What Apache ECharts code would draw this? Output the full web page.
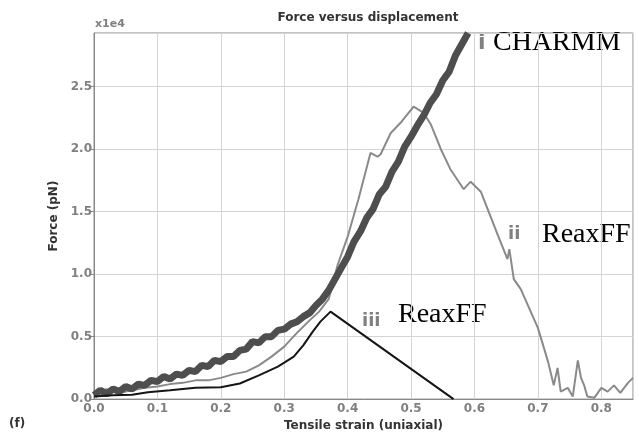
<!DOCTYPE html>
<html>
<head>
<meta charset="utf-8">
<script src="https://cdn.jsdelivr.net/npm/echarts@6/dist/echarts.min.js"></script>
<style>
  html, body { margin: 0; padding: 0; background: #fff; }
  #chart { width: 639px; height: 437px; }
</style>
</head>
<body>
<div id="chart"></div>
<script>
// strain values (x) and force in pN (y)
var charmm = [
  [0.0, 300], [0.01, 700], [0.02, 400], [0.03, 800], [0.04, 600], [0.05, 1000],
  [0.06, 800], [0.07, 1200], [0.08, 1100], [0.09, 1500], [0.10, 1400], [0.11, 1800],
  [0.12, 1600], [0.13, 2000], [0.14, 1900], [0.15, 2300], [0.16, 2200], [0.17, 2700],
  [0.18, 2600], [0.19, 3100], [0.20, 3000], [0.21, 3400], [0.22, 3400], [0.23, 3900],
  [0.24, 4000], [0.25, 4600], [0.26, 4500], [0.27, 5000], [0.28, 5000], [0.29, 5500],
  [0.30, 5600], [0.31, 6000], [0.32, 6200], [0.33, 6600], [0.34, 6900], [0.35, 7500],
  [0.36, 8000], [0.37, 8700], [0.38, 9600], [0.39, 10500], [0.40, 11400], [0.41, 12600],
  [0.42, 13400], [0.43, 14500], [0.44, 15200], [0.45, 16400], [0.46, 17000], [0.47, 18200],
  [0.48, 19000], [0.49, 20200], [0.50, 21000], [0.51, 21900], [0.52, 22700], [0.53, 23700],
  [0.54, 24400], [0.55, 25500], [0.56, 26200], [0.57, 27500], [0.58, 28400], [0.59, 29300]
]
var reaxA = [
  [0.0, 500], [0.02, 800], [0.04, 500], [0.06, 700], [0.08, 900], [0.10, 1000],
  [0.12, 1200], [0.14, 1300], [0.16, 1500], [0.18, 1500], [0.20, 1700], [0.22, 2000],
  [0.24, 2200], [0.26, 2700], [0.28, 3400], [0.30, 4200], [0.32, 5300], [0.34, 6300],
  [0.355, 7000], [0.37, 8000], [0.384, 10700], [0.40, 13000], [0.417, 16000], [0.436, 19700],
  [0.447, 19400], [0.452, 19600], [0.468, 21300], [0.485, 22200], [0.504, 23400], [0.52, 22900],
  [0.531, 22000], [0.547, 20000], [0.562, 18400], [0.583, 16800], [0.594, 17400], [0.61, 16600],
  [0.637, 13100], [0.652, 11200], [0.655, 12000], [0.662, 9600], [0.673, 8800], [0.70, 5700],
  [0.716, 3000], [0.725, 1100], [0.731, 2500], [0.736, 600], [0.747, 900], [0.755, 200],
  [0.763, 3100], [0.768, 1700], [0.773, 1100], [0.778, 200], [0.789, 100], [0.80, 900],
  [0.81, 600], [0.82, 1100], [0.83, 500], [0.842, 1300], [0.85, 1700]
]
var reaxB = [
  [0.0, 200], [0.03, 300], [0.06, 350], [0.085, 550], [0.12, 700], [0.16, 900],
  [0.20, 950], [0.23, 1250], [0.26, 1900], [0.29, 2600], [0.315, 3400], [0.33, 4300],
  [0.345, 5400], [0.357, 6200], [0.373, 7000], [0.567, 0]
]
var xTicks = [0, 0.1, 0.2, 0.3, 0.4, 0.5, 0.6, 0.7, 0.8]

var chart = echarts.init(document.getElementById('chart'))
var tickFont = { color: '#808080', fontSize: 12, fontWeight: 'bold', fontFamily: 'DejaVu Sans' }

chart.setOption({
  animation: false,
  backgroundColor: '#fff',
  title: {
    text: 'Force versus displacement',
    left: 363, top: 7, textAlign: 'center',
    textStyle: { fontSize: 12, fontWeight: 'bold', color: '#333', fontFamily: 'DejaVu Sans' }
  },
  grid: {
    left: 94, right: 6, top: 33, bottom: 36,
    show: true, borderColor: '#888', borderWidth: 1
  },
  xAxis: {
    type: 'value', min: 0, max: 0.85, interval: 0.1,
    name: 'Tensile strain (uniaxial)', nameLocation: 'middle', nameGap: 17,
    nameTextStyle: { fontSize: 12, fontWeight: 'bold', color: '#333', fontFamily: 'DejaVu Sans' },
    axisLine: { lineStyle: { color: '#888' } },
    axisTick: { show: false },
    splitLine: { lineStyle: { color: '#d4d4d4' } },
    axisLabel: Object.assign({ margin: 4, showMaxLabel: false, formatter: function (v) {
      return xTicks.indexOf(+v.toFixed(2)) >= 0 ? v.toFixed(1) : ''
    } }, tickFont)
  },
  yAxis: {
    type: 'value', min: 0, max: 29300, interval: 5000,
    name: 'Force (pN)', nameLocation: 'middle', nameGap: 33,
    nameTextStyle: { fontSize: 12, fontWeight: 'bold', color: '#333', fontFamily: 'DejaVu Sans' },
    axisLine: { show: true, lineStyle: { color: '#888' } },
    axisTick: { show: true, length: 3, lineStyle: { color: '#888' } },
    splitLine: { lineStyle: { color: '#d4d4d4' } },
    axisLabel: Object.assign({ margin: 2, showMaxLabel: false, formatter: function (v) {
      return (v / 1e4).toFixed(1)
    } }, tickFont)
  },
  graphic: [
    { type: 'text', left: 95, top: 19, style: { text: 'x1e4', fontSize: 11, fontWeight: 'bold', fill: '#808080', fontFamily: 'DejaVu Sans' } },
    { type: 'text', left: 9, top: 418, style: { text: '(f)', fontSize: 12, fontWeight: 'bold', fill: '#333', fontFamily: 'DejaVu Sans' } },
    { type: 'text', left: 478, top: 32, style: { text: 'i', fontSize: 22, fontWeight: 'bold', fill: '#808080', fontFamily: 'DejaVu Sans' } },
    { type: 'text', left: 493, top: 29, style: { text: 'CHARMM', fontSize: 28, fill: '#000', fontFamily: 'Liberation Serif' } },
    { type: 'text', left: 508, top: 225, style: { text: 'ii', fontSize: 18, fontWeight: 'bold', fill: '#808080', fontFamily: 'DejaVu Sans' } },
    { type: 'text', left: 542, top: 221, style: { text: 'ReaxFF', fontSize: 28, fill: '#000', fontFamily: 'Liberation Serif' } },
    { type: 'text', left: 362, top: 312, style: { text: 'iii', fontSize: 18, fontWeight: 'bold', fill: '#808080', fontFamily: 'DejaVu Sans' } },
    { type: 'text', left: 398, top: 301, style: { text: 'ReaxFF', fontSize: 28, fill: '#000', fontFamily: 'Liberation Serif' } }
  ],
  series: [
    { name: 'ReaxFF ii', type: 'line', data: reaxA, showSymbol: false,
      lineStyle: { color: '#8a8a8a', width: 2 }, z: 2 },
    { name: 'CHARMM', type: 'line', data: charmm, showSymbol: false,
      lineStyle: { color: '#4e4e4e', width: 7 }, z: 3 },
    { name: 'ReaxFF iii', type: 'line', data: reaxB, showSymbol: false,
      lineStyle: { color: '#151515', width: 2 }, z: 4 }
  ]
})
</script>
</body>
</html>
